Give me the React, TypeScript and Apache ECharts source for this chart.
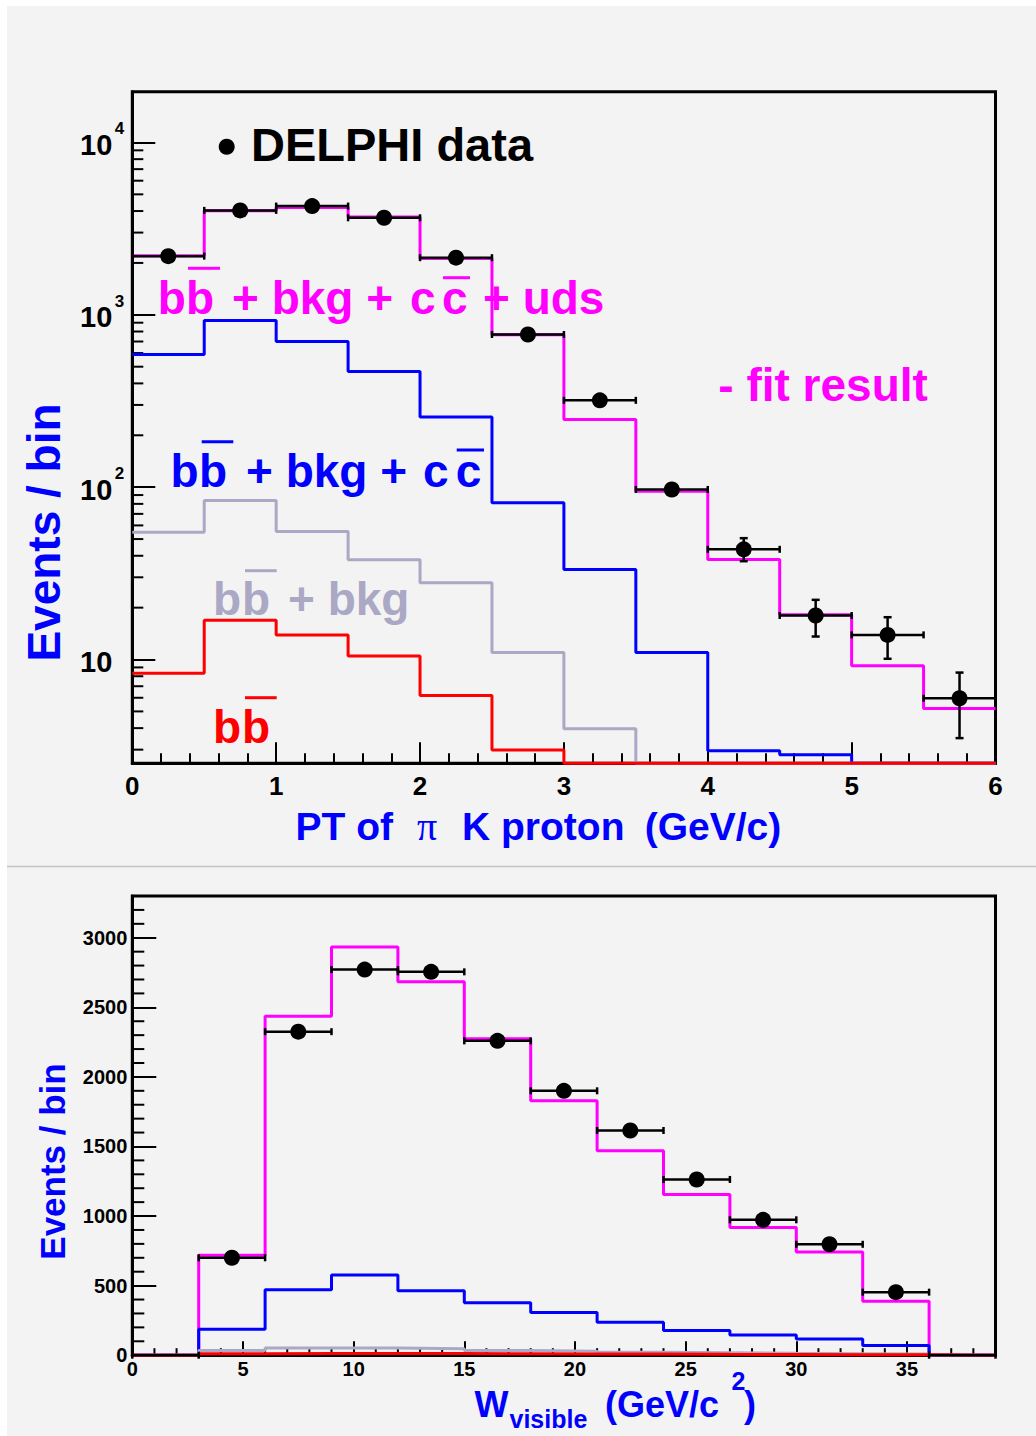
import React, { useEffect, useRef } from 'react';
import * as echarts from 'echarts';

// ---------------- data (top panel: PT of pi K proton) ----------------
const PT_EDGES = [0, 0.5, 1, 1.5, 2, 2.5, 3, 3.5, 4, 4.5, 5, 5.5, 6];
const PT_DATA = [2190, 4035, 4275, 3655, 2145, 769, 319, 97, 43.6, 18.0, 13.9, 5.96];
const PT_DATA_LO = [2190, 4035, 4275, 3655, 2145, 769, 319, 97, 37.2, 13.6, 10.1, 3.5];
const PT_DATA_HI = [2190, 4035, 4275, 3655, 2145, 769, 319, 97, 50.6, 22.2, 17.6, 8.4];
const PT_FIT = [2200, 4020, 4190, 3690, 2120, 765, 247, 94.8, 38, 18.2, 9.2, 5.2];
const PT_BB_BKG_CC = [589, 928, 701, 469, 255, 81.2, 33.3, 11.0, 2.96, 2.8, 0, 0];
const PT_BB_BKG = [54.8, 83.8, 55.3, 37.9, 27.9, 11.0, 3.96, 0, 0, 0, 0, 0];
const PT_BB = [8.33, 16.9, 13.9, 10.5, 6.18, 2.99, 0, 0, 0, 0, 0, 0];
const PT_Y_MIN = 2.5;
const PT_Y_MAX = 19700;

// ---------------- data (bottom panel: W visible) ----------------
const W_EDGES = [0, 3, 6, 9, 12, 15, 18, 21, 24, 27, 30, 33, 36, 39];
const W_DATA = [0, 700, 2325, 2771, 2755, 2259, 1900, 1615, 1263, 973, 797, 453, 0];
const W_FIT = [0, 718, 2435, 2934, 2684, 2274, 1829, 1469, 1154, 917, 741, 387, 0];
const W_BB_BKG_CC = [0, 186, 471, 576, 463, 377, 306, 237, 178, 145, 117, 69, 0];
const W_BB_BKG = [0, 33, 51, 51, 46, 33, 28, 22, 18, 14, 11, 8, 0];
const W_BB = [0, 10, 13, 13, 12, 10, 9, 8, 6, 5, 4, 3, 0];
const W_Y_MAX = 3300;
const W_X_MAX = 39;

// ---------------- style ----------------
const SANS = '"Liberation Sans", Arial, Helvetica, sans-serif';
const SERIF = '"Liberation Serif", "Times New Roman", serif';
const MAGENTA = '#ff00ff';
const BLUE = '#0000ff';
const GREY = '#aaa8c4';
const RED = '#ff0000';
const OX = 7;
const OY = 6;

function histPoints(edges: number[], vals: number[], floor: number) {
  const pts: number[][] = [];
  for (let i = 0; i < vals.length; i++) {
    const v = Math.max(vals[i], floor);
    pts.push([edges[i], v]);
    pts.push([edges[i + 1], v]);
  }
  return pts;
}

function histSeries(edges: number[], vals: number[], floor: number, color: string, gi: number) {
  return {
    type: 'line',
    xAxisIndex: gi,
    yAxisIndex: gi,
    data: histPoints(edges, vals, floor),
    showSymbol: false,
    symbol: 'none',
    clip: false,
    silent: true,
    emphasis: { disabled: true },
    lineStyle: { color, width: 3, opacity: 1 },
  };
}

function errorSeries(edges: number[], vals: number[], lo: number[], hi: number[], gi: number) {
  const data = vals.map((v, i) => [(edges[i] + edges[i + 1]) / 2, v, edges[i], edges[i + 1], lo[i], hi[i]]);
  return {
    type: 'custom',
    xAxisIndex: gi,
    yAxisIndex: gi,
    silent: true,
    clip: false,
    dimensions: ['x', 'y', 'xl', 'xh', 'yl', 'yh'],
    encode: { x: 0, y: 1 },
    data,
    z: 5,
    renderItem: (params: any, api: any) => {
      const x = api.value(0), y = api.value(1);
      const pl = api.coord([api.value(2), y]);
      const ph = api.coord([api.value(3), y]);
      const st = { stroke: '#000', lineWidth: 2.5 };
      const children: any[] = [
        { type: 'line', shape: { x1: pl[0], y1: pl[1], x2: ph[0], y2: ph[1] }, style: st },
        { type: 'line', shape: { x1: pl[0], y1: pl[1] - 3.5, x2: pl[0], y2: pl[1] + 3.5 }, style: st },
        { type: 'line', shape: { x1: ph[0], y1: ph[1] - 3.5, x2: ph[0], y2: ph[1] + 3.5 }, style: st },
      ];
      const a = api.coord([x, api.value(4)]);
      const b = api.coord([x, api.value(5)]);
      if (Math.abs(a[1] - b[1]) > 1) {
        children.push({ type: 'line', shape: { x1: a[0], y1: a[1], x2: b[0], y2: b[1] }, style: st });
        children.push({ type: 'line', shape: { x1: a[0] - 4, y1: a[1], x2: a[0] + 4, y2: a[1] }, style: st });
        children.push({ type: 'line', shape: { x1: b[0] - 4, y1: b[1], x2: b[0] + 4, y2: b[1] }, style: st });
      }
      return { type: 'group', children };
    },
  };
}

function markerSeries(edges: number[], vals: number[], gi: number) {
  const data = vals
    .map((v, i) => [(edges[i] + edges[i + 1]) / 2, v])
    .filter((p) => p[1] > 0);
  return {
    type: 'scatter',
    xAxisIndex: gi,
    yAxisIndex: gi,
    data,
    symbol: 'circle',
    symbolSize: 16,
    silent: true,
    z: 6,
    itemStyle: { color: '#000', opacity: 1 },
    emphasis: { disabled: true },
  };
}

// minor ticks drawn through the axis scale
function minorTickSeries(values: number[], axis: 'x' | 'y', len: number, gi: number, other: number) {
  return {
    type: 'custom',
    xAxisIndex: gi,
    yAxisIndex: gi,
    silent: true,
    clip: false,
    data: values.map((v) => (axis === 'x' ? [v, other] : [other, v])),
    renderItem: (params: any, api: any) => {
      const cs = params.coordSys;
      const st = { stroke: '#000', lineWidth: 2 };
      if (axis === 'x') {
        const cx = api.coord([api.value(0), other])[0];
        const yb = cs.y + cs.height;
        return { type: 'line', shape: { x1: cx, y1: yb, x2: cx, y2: yb - len }, style: st };
      }
      const cy = api.coord([other, api.value(1)])[1];
      return { type: 'line', shape: { x1: cs.x, y1: cy, x2: cs.x + len, y2: cy }, style: st };
    },
  };
}

function logMinorValues(min: number, max: number) {
  const out: number[] = [];
  for (let e = 0; e <= 4; e++) {
    for (let k = 2; k <= 9; k++) {
      const v = k * Math.pow(10, e);
      if (v > min && v < max) out.push(v);
    }
  }
  return out;
}

function linMinorValues(max: number, step: number, major: number) {
  const out: number[] = [];
  for (let v = step; v < max; v += step) {
    if (Math.abs(v / major - Math.round(v / major)) > 1e-6) out.push(v);
  }
  return out;
}

// ---------------- annotation helpers ----------------
function T(text: string, xPage: number, basePage: number, size: number, color: string, family = SANS, weight = 'bold') {
  return {
    type: 'text',
    x: xPage - OX,
    y: basePage - OY - 0.3465 * size,
    z: 100,
    silent: true,
    style: {
      text,
      fill: color,
      fontSize: size,
      fontWeight: weight,
      fontFamily: family,
      align: 'left',
      verticalAlign: 'middle',
      textAlign: 'left',
      textVerticalAlign: 'middle',
    },
  };
}

function OL(x1: number, x2: number, yPage: number, color: string) {
  return {
    type: 'line',
    z: 100,
    silent: true,
    shape: { x1: x1 - OX, y1: yPage - OY, x2: x2 - OX, y2: yPage - OY },
    style: { stroke: color, lineWidth: 3 },
  };
}

function VT(text: string, cxPage: number, cyPage: number, size: number, color: string) {
  return {
    type: 'text',
    x: cxPage - OX,
    y: cyPage - OY,
    rotation: Math.PI / 2,
    z: 100,
    silent: true,
    style: {
      text,
      fill: color,
      fontSize: size,
      fontWeight: 'bold',
      fontFamily: SANS,
      align: 'center',
      verticalAlign: 'middle',
      textAlign: 'center',
      textVerticalAlign: 'middle',
    },
  };
}

function buildOption() {
  const axisLine = { show: true, onZero: false, lineStyle: { color: '#000', width: 3 } };
  const tickStyle = { color: '#000', width: 2 };
  const labelBase = { color: '#000', fontWeight: 'bold', fontFamily: SANS };

  const graphics: any[] = [
    {
      type: 'line',
      silent: true,
      shape: { x1: 0, y1: 866.5 - OY, x2: 1029, y2: 866.5 - OY },
      style: { stroke: '#c4c4c4', lineWidth: 1.5 },
    },
    // legend-like labels, top panel
    { type: 'circle', z: 100, silent: true, shape: { cx: 226.7 - OX, cy: 146.7 - OY, r: 8 }, style: { fill: '#000' } },
    T('DELPHI data', 251, 161, 47, '#000'),
    T('b', 157.8, 314, 46, MAGENTA),
    T('b', 186, 314, 46, MAGENTA),
    T('+ bkg +', 232, 314, 46, MAGENTA),
    T('c', 410, 314, 46, MAGENTA),
    T('c', 442, 314, 46, MAGENTA),
    T('+ uds', 483, 314, 46, MAGENTA),
    OL(188, 220, 268.3, MAGENTA),
    OL(443, 470, 277.7, MAGENTA),
    T('- fit result', 718.3, 400.7, 46, MAGENTA),
    T('b', 170.4, 487.3, 46, BLUE),
    T('b', 199, 487.3, 46, BLUE),
    T('+ bkg +', 246, 487.3, 46, BLUE),
    T('c', 423, 487.3, 46, BLUE),
    T('c', 455.7, 487.3, 46, BLUE),
    OL(201.7, 233.3, 441.7, BLUE),
    OL(456.7, 484, 450, BLUE),
    T('b', 213, 615, 46, GREY),
    T('b', 242, 615, 46, GREY),
    T('+ bkg', 288, 615, 46, GREY),
    OL(245, 276.7, 570.7, GREY),
    T('b', 213, 742.7, 46, RED),
    T('b', 242, 742.7, 46, RED),
    OL(245, 276.7, 697.7, RED),
    // axis titles, top panel
    VT('Events / bin', 44, 532.5, 46, BLUE),
    T('PT of', 295.5, 840, 39, BLUE),
    T('\u03c0', 417, 840, 40, BLUE, SERIF, 'normal'),
    T('K proton', 462, 840, 39, BLUE),
    T('(GeV/c)', 644.7, 840, 39, BLUE),
    // axis titles, bottom panel
    VT('Events / bin', 52.9, 1161.5, 35, BLUE),
    T('W', 474.5, 1417, 36, BLUE),
    T('visible', 509.5, 1428, 25, BLUE),
    T('(GeV/c', 605, 1417, 36, BLUE),
    T('2', 731.5, 1390, 25, BLUE),
    T(')', 744, 1417, 36, BLUE),
  ];

  return {
    animation: false,
    backgroundColor: '#f3f3f3',
    grid: [
      {
        left: 125.3, top: 85.7, width: 863.2, height: 671.6,
        show: true, borderColor: '#000', borderWidth: 3, backgroundColor: 'transparent',
        containLabel: false, outerBoundsMode: 'none',
      },
      {
        left: 125.3, top: 890, width: 863.2, height: 459.2,
        show: true, borderColor: '#000', borderWidth: 3, backgroundColor: 'transparent',
        containLabel: false, outerBoundsMode: 'none',
      },
    ],
    xAxis: [
      {
        gridIndex: 0, type: 'value', min: 0, max: 6, interval: 1,
        axisLine,
        axisTick: { show: true, inside: true, length: 21, lineStyle: tickStyle },
        minorTick: { show: true, splitNumber: 5, length: 10, lineStyle: tickStyle },
        splitLine: { show: false },
        minorSplitLine: { show: false },
        axisLabel: { ...labelBase, margin: 10, fontSize: 26 },
      },
      {
        gridIndex: 1, type: 'value', min: 0, max: W_X_MAX, interval: 5,
        axisLine,
        axisTick: { show: true, inside: true, length: 14, lineStyle: tickStyle },
        splitLine: { show: false },
        axisLabel: {
          ...labelBase, margin: 4, fontSize: 20,
          formatter: (v: number) => (v % 5 === 0 && v <= 35 ? String(v) : ''),
        },
      },
    ],
    yAxis: [
      {
        gridIndex: 0, type: 'log', logBase: 10, min: PT_Y_MIN, max: PT_Y_MAX,
        axisLine,
        axisTick: { show: true, inside: true, length: 23, lineStyle: tickStyle },
        splitLine: { show: false },
        axisLabel: {
          ...labelBase, margin: 8,
          formatter: (v: number) => {
            const e = Math.log10(v);
            const r = Math.round(e);
            if (Math.abs(e - r) > 1e-6 || r < 1) return '';
            return r === 1 ? '{b|10}{s|\u00a0}' : `{b|10}{s|${r}}`;
          },
          rich: {
            b: { fontSize: 29, fontWeight: 'bold', fontFamily: SANS, color: '#000', padding: [10, 0, 5, 0] },
            s: { fontSize: 17, fontWeight: 'bold', fontFamily: SANS, color: '#000', width: 12, verticalAlign: 'top' },
          },
        },
      },
      {
        gridIndex: 1, type: 'value', min: 0, max: W_Y_MAX, interval: 500,
        axisLine,
        axisTick: { show: true, inside: true, length: 24, lineStyle: tickStyle },
        splitLine: { show: false },
        axisLabel: {
          ...labelBase, margin: 5, fontSize: 20,
          formatter: (v: number) => (v % 500 === 0 && v <= 3000 ? String(v) : ''),
        },
      },
    ],
    series: [
      minorTickSeries(logMinorValues(PT_Y_MIN, PT_Y_MAX), 'y', 11, 0, 0),
      minorTickSeries(linMinorValues(W_X_MAX, 1, 5), 'x', 7, 1, 0),
      minorTickSeries(linMinorValues(W_Y_MAX, 100, 500), 'y', 12, 1, 0),

      histSeries(PT_EDGES, PT_FIT, PT_Y_MIN, MAGENTA, 0),
      histSeries(PT_EDGES, PT_BB_BKG_CC, PT_Y_MIN, BLUE, 0),
      histSeries(PT_EDGES, PT_BB_BKG, PT_Y_MIN, GREY, 0),
      histSeries(PT_EDGES, PT_BB, PT_Y_MIN, RED, 0),
      errorSeries(PT_EDGES, PT_DATA, PT_DATA_LO, PT_DATA_HI, 0),
      markerSeries(PT_EDGES, PT_DATA, 0),

      histSeries(W_EDGES, W_FIT, 0, MAGENTA, 1),
      histSeries(W_EDGES, W_BB_BKG_CC, 0, BLUE, 1),
      histSeries(W_EDGES, W_BB_BKG, 0, GREY, 1),
      histSeries(W_EDGES, W_BB, 0, RED, 1),
      errorSeries(W_EDGES, W_DATA, W_DATA, W_DATA, 1),
      markerSeries(W_EDGES, W_DATA, 1),
    ],
    graphic: graphics,
  };
}

export default function App() {
  const ref = useRef<HTMLDivElement>(null);
  useEffect(() => {
    const chart = echarts.init(ref.current as HTMLDivElement, null, { renderer: 'svg' });
    chart.setOption(buildOption() as any);
    return () => chart.dispose();
  }, []);
  return (
    <div
      ref={ref}
      style={{ position: 'absolute', left: OX, top: OY, width: 1029, height: 1430 }}
    />
  );
}
